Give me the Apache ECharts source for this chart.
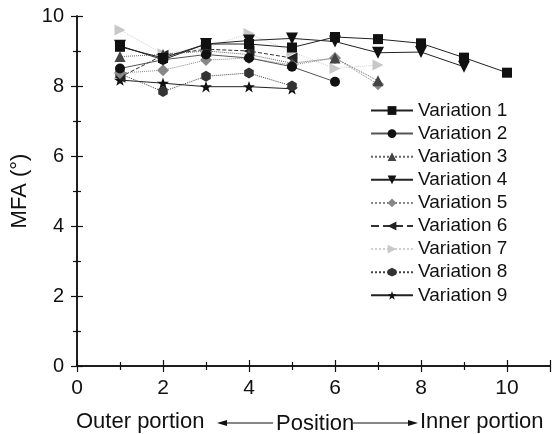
<!DOCTYPE html>
<html>
<head>
<meta charset="utf-8">
<script src="https://cdn.jsdelivr.net/npm/echarts@6/dist/echarts.min.js"></script>
<style>
  html, body { margin: 0; padding: 0; background: #fff; }
  #chart { width: 558px; height: 434px; }
</style>
</head>
<body>
<div id="chart"></div>
<script>
  // MFA by position, one list per variation (position starts at 1)
  const names = ['Variation 1', 'Variation 2', 'Variation 3', 'Variation 4', 'Variation 5',
    'Variation 6', 'Variation 7', 'Variation 8', 'Variation 9'];
  const v1 = [9.12, 8.8, 9.2, 9.2, 9.1, 9.4, 9.34, 9.22, 8.81, 8.38];
  const v2 = [8.5, 8.75, 8.9, 8.8, 8.55, 8.12];
  const v3 = [8.84, 8.9, 9.0, 8.9, 8.65, 8.8, 8.15];
  const v4 = [9.15, 8.75, 9.2, 9.3, 9.36, 9.27, 8.95, 8.97, 8.55];
  const v5 = [8.37, 8.45, 8.74, 8.8, 8.6, 8.8, 8.05];
  const v6 = [8.25, 8.88, 9.05, 9.0, 8.8];
  const v7 = [9.6, 8.92, 9.1, 9.5, 8.98, 8.5, 8.6];
  const v8 = [8.35, 7.84, 8.28, 8.37, 8.0];
  const v9 = [8.17, 8.08, 7.98, 7.98, 7.92];
  const xTicks = [0, 2, 4, 6, 8, 10];
  const yTicks = [0, 2, 4, 6, 8, 10];

  const hexagon = 'path://M0,-10L8.66,-5L8.66,5L0,10L-8.66,5L-8.66,-5Z';
  const star = 'path://M0,-10L2.35,-3.24L9.51,-3.09L3.8,1.24L5.88,8.09L0,4L-5.88,8.09L-3.8,1.24L-9.51,-3.09L-2.35,-3.24Z';

  const styles = [
    { symbol: 'rect', rotate: 0, size: 10, color: '#111', line: '#222', type: 'solid' },
    { symbol: 'circle', rotate: 0, size: 10, color: '#111', line: '#555', type: 'solid' },
    { symbol: 'triangle', rotate: 0, size: 11, color: '#444', line: '#666', type: 'dotted' },
    { symbol: 'triangle', rotate: 180, size: 12, color: '#111', line: '#222', type: 'solid' },
    { symbol: 'diamond', rotate: 0, size: 12, color: '#888', line: '#888', type: 'dotted' },
    { symbol: 'triangle', rotate: 90, size: 11, color: '#222', line: '#333', type: 'dashed' },
    { symbol: 'triangle', rotate: -90, size: 11, color: '#c8c8c8', line: '#d0d0d0', type: 'dotted' },
    { symbol: hexagon, rotate: 0, size: 11, color: '#333', line: '#444', type: 'dotted' },
    { symbol: star, rotate: 0, size: 12, color: '#111', line: '#222', type: 'solid' }
  ];
  const values = [v1, v2, v3, v4, v5, v6, v7, v8, v9];

  const font = 'Liberation Sans, Arial, sans-serif';

  const series = values.map((vals, i) => ({
    name: names[i],
    type: 'line',
    data: vals.map((v, j) => [j + 1, v]),
    symbol: styles[i].symbol,
    symbolRotate: styles[i].rotate,
    symbolSize: styles[i].size,
    symbolKeepAspect: true,
    itemStyle: { color: styles[i].color },
    lineStyle: { color: styles[i].line, width: 1, type: styles[i].type },
    z: 10 - i
  }));

  const axisCommon = {
    type: 'value',
    min: 0,
    interval: 2,
    axisLine: { show: true, lineStyle: { color: '#111', width: 1.5 } },
    axisTick: { show: true, inside: false, length: 6, lineStyle: { color: '#111', width: 1.2 } },
    minorTick: { show: true, splitNumber: 2, length: 4, lineStyle: { color: '#111', width: 1.2 } },
    splitLine: { show: false }
  };

  const myChart = echarts.init(document.getElementById('chart'));
  const option = {
    backgroundColor: '#fff',
    animation: false,
    grid: { left: 77, right: 8, top: 16, bottom: 68 },
    legend: {
      data: names,
      orient: 'vertical',
      left: 365,
      top: 96,
      itemWidth: 42,
      itemHeight: 11,
      itemGap: 4.1,
      textStyle: { fontFamily: font, fontSize: 19, color: '#111' }
    },
    xAxis: [
      Object.assign({}, axisCommon, {
        position: 'bottom',
        max: 11,
        axisLabel: {
          fontFamily: font, fontSize: 21, color: '#111', margin: 12,
          showMaxLabel: false,
          formatter: v => (xTicks.includes(v) ? String(v) : '')
        }
      }),
      Object.assign({}, axisCommon, {
        position: 'top',
        max: 11,
        axisLabel: { show: false }
      })
    ],
    yAxis: [
      Object.assign({}, axisCommon, {
        position: 'left',
        max: 10,
        name: 'MFA (°)',
        nameLocation: 'middle',
        nameGap: 42,
        nameTextStyle: { fontFamily: font, fontSize: 22, color: '#111' },
        axisLabel: {
          fontFamily: font, fontSize: 20, color: '#111', margin: 13,
          formatter: v => (yTicks.includes(v) ? String(v) : '')
        }
      }),
      Object.assign({}, axisCommon, {
        position: 'right',
        max: 10,
        axisLabel: { show: false }
      })
    ],
    graphic: [
      { type: 'text', left: 76, top: 411, style: { text: 'Outer portion', fontFamily: font, fontSize: 22, fill: '#111' } },
      { type: 'text', left: 276, top: 413, style: { text: 'Position', fontFamily: font, fontSize: 22, fill: '#111' } },
      { type: 'text', left: 420, top: 411, style: { text: 'Inner portion', fontFamily: font, fontSize: 22, fill: '#111' } },
      { type: 'line', shape: { x1: 224, y1: 423, x2: 273, y2: 423 }, style: { stroke: '#111', lineWidth: 1.2 } },
      { type: 'polygon', shape: { points: [[217, 423], [227, 420], [227, 426]] }, style: { fill: '#111' } },
      { type: 'line', shape: { x1: 353, y1: 423, x2: 411, y2: 423 }, style: { stroke: '#111', lineWidth: 1.2 } },
      { type: 'polygon', shape: { points: [[418, 423], [408, 420], [408, 426]] }, style: { fill: '#111' } }
    ],
    series: series
  };
  myChart.setOption(option);
</script>
</body>
</html>
